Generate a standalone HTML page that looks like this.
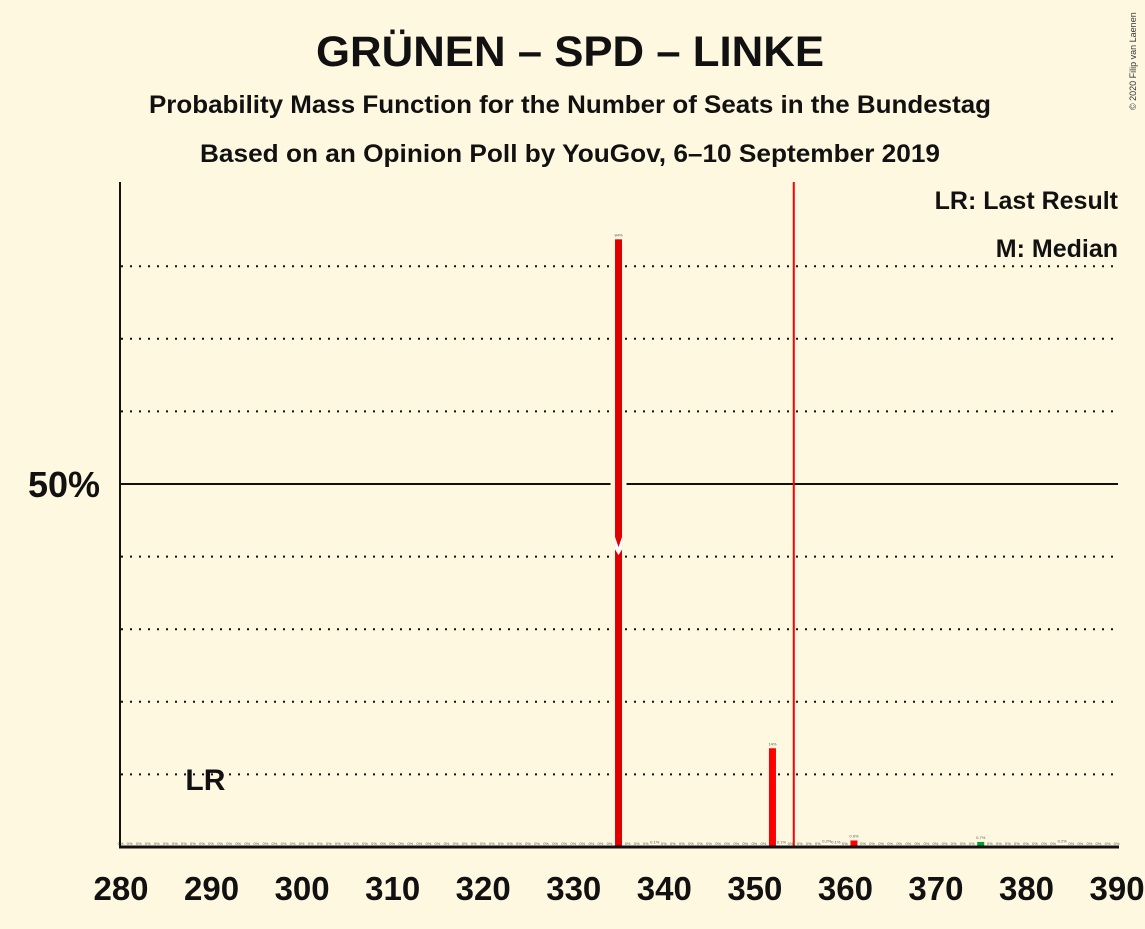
<!DOCTYPE html>
<html><head><meta charset="utf-8"><style>
html,body{margin:0;padding:0;background:#fff8e1;}
svg text{font-family:"Liberation Sans",sans-serif;}
</style></head><body>
<svg width="1145" height="924" viewBox="0 0 1145 924" xmlns="http://www.w3.org/2000/svg">
<rect width="1145" height="924" fill="#fff8e1"/>
<text x="570" y="66" text-anchor="middle" font-size="43" font-weight="bold" fill="#111" textLength="508" lengthAdjust="spacingAndGlyphs">GRÜNEN – SPD – LINKE</text>
<text x="570" y="113" text-anchor="middle" font-size="25" font-weight="bold" fill="#111" textLength="842" lengthAdjust="spacingAndGlyphs">Probability Mass Function for the Number of Seats in the Bundestag</text>
<text x="570" y="162" text-anchor="middle" font-size="25" font-weight="bold" fill="#111" textLength="740" lengthAdjust="spacingAndGlyphs">Based on an Opinion Poll by YouGov, 6–10 September 2019</text>
<text x="1136" y="110" font-size="9" fill="#333" transform="rotate(-90 1136 110)">© 2020 Filip van Laenen</text>
<text x="1118" y="209" text-anchor="end" font-size="25" font-weight="bold" fill="#111">LR: Last Result</text>
<text x="1118" y="257" text-anchor="end" font-size="25" font-weight="bold" fill="#111">M: Median</text>
<g id="grid"></g>
<g id="bars"></g>
<g id="labels"></g>
<g id="xaxis"></g>
</svg>
<script>
const seats = [];
for (let s = 280; s <= 390; s++) seats.push(s);
const nonZeroSeats = [335, 339, 352, 353, 358, 359, 361, 375, 384];
const nonZeroValues = [83.7, 0.1, 13.6, 0.1, 0.2, 0.1, 0.9, 0.7, 0.2];
const nonZeroLabels = ["84%", "0.1%", "14%", "0.1%", "0.2%", "0.1%", "0.9%", "0.7%", "0.2%"];
const medianSeat = 335;
const medianLine = 354.3;
const lastResult = 287;
const xTicks = [280, 290, 300, 310, 320, 330, 340, 350, 360, 370, 380, 390];
const gridPct = [10, 20, 30, 40, 60, 70, 80];

const NS = "http://www.w3.org/2000/svg";
const x = s => 121 + (s - 280) * 9.055;
const y = p => 847 - p * 7.26;
function mk(tag, attrs, parent) {
  const e = document.createElementNS(NS, tag);
  for (const k in attrs) e.setAttribute(k, attrs[k]);
  document.getElementById(parent).appendChild(e);
  return e;
}
gridPct.forEach(p => {
  const l = mk("line", {x1: 121, x2: 1118, y1: y(p), y2: y(p), stroke: "#111", "stroke-width": 2, "stroke-dasharray": "2,7"}, "grid");
  
  
});
const fifty = mk("line", {x1: 121, x2: 1118, y1: y(50), y2: y(50), stroke: "#111", "stroke-width": 2}, "grid");


const fl = mk("text", {x: 100, y: y(50) + 13, "text-anchor": "end", "font-size": 36, "font-weight": "bold", fill: "#111"}, "grid");
fl.textContent = "50%";



seats.forEach(s => {
  const i = nonZeroSeats.indexOf(s);
  const v = i >= 0 ? nonZeroValues[i] : 0;
  const lab = i >= 0 ? nonZeroLabels[i] : "0%";
  const cx = x(s) - 0.5;
  if (v > 0) {
    let col = "#e00000";
    if (s === 352 || s === 353 || s === 361) col = "#ff0000";
    if (s === 375) col = "#00a030";
    if (s === medianSeat) {
      mk("rect", {x: cx - 8, y: y(50) - 2, width: 16, height: 4, fill: "#fff8e1"}, "bars");
    }
    const r = mk("rect", {x: cx - 3.5, y: y(v), width: 7, height: 847 - y(v), fill: col}, "bars");
    
    
  }
  const t = mk("text", {x: cx, y: (v > 0 ? y(v) - 3 : 845), "text-anchor": "middle", "font-size": 4, fill: "#555"}, "labels");
  t.textContent = lab;
  
  
});
const mc = x(medianSeat) - 0.5;
const mm = mk("path", {d: `M${mc-3.5} ${y(42.7)} L${mc} ${y(41.3)} L${mc+3.5} ${y(42.7)} L${mc+3.5} ${y(41)} L${mc} ${y(40.2)} L${mc-3.5} ${y(41)} Z`, fill: "#fff"}, "bars");


const ml = mk("line", {x1: x(medianLine), x2: x(medianLine), y1: 182, y2: 847, stroke: "#ff0000", "stroke-width": 2}, "bars");


const lr = mk("text", {x: x(lastResult) + 21, y: 790, "text-anchor": "middle", "font-size": 30, "font-weight": "bold", fill: "#111"}, "labels");
lr.textContent = "LR";



const ya = mk("line", {x1: 120, x2: 120, y1: 182, y2: 848, stroke: "#111", "stroke-width": 2}, "xaxis");


const xa = mk("line", {x1: 119, x2: 1119, y1: 847, y2: 847, stroke: "#111", "stroke-width": 3}, "xaxis");


xTicks.forEach(s => {
  const t = mk("text", {x: x(s), y: 900, "text-anchor": "middle", "font-size": 33, "font-weight": "bold", fill: "#111"}, "xaxis");
  t.textContent = s;
  
  
});
</script>
</body></html>
